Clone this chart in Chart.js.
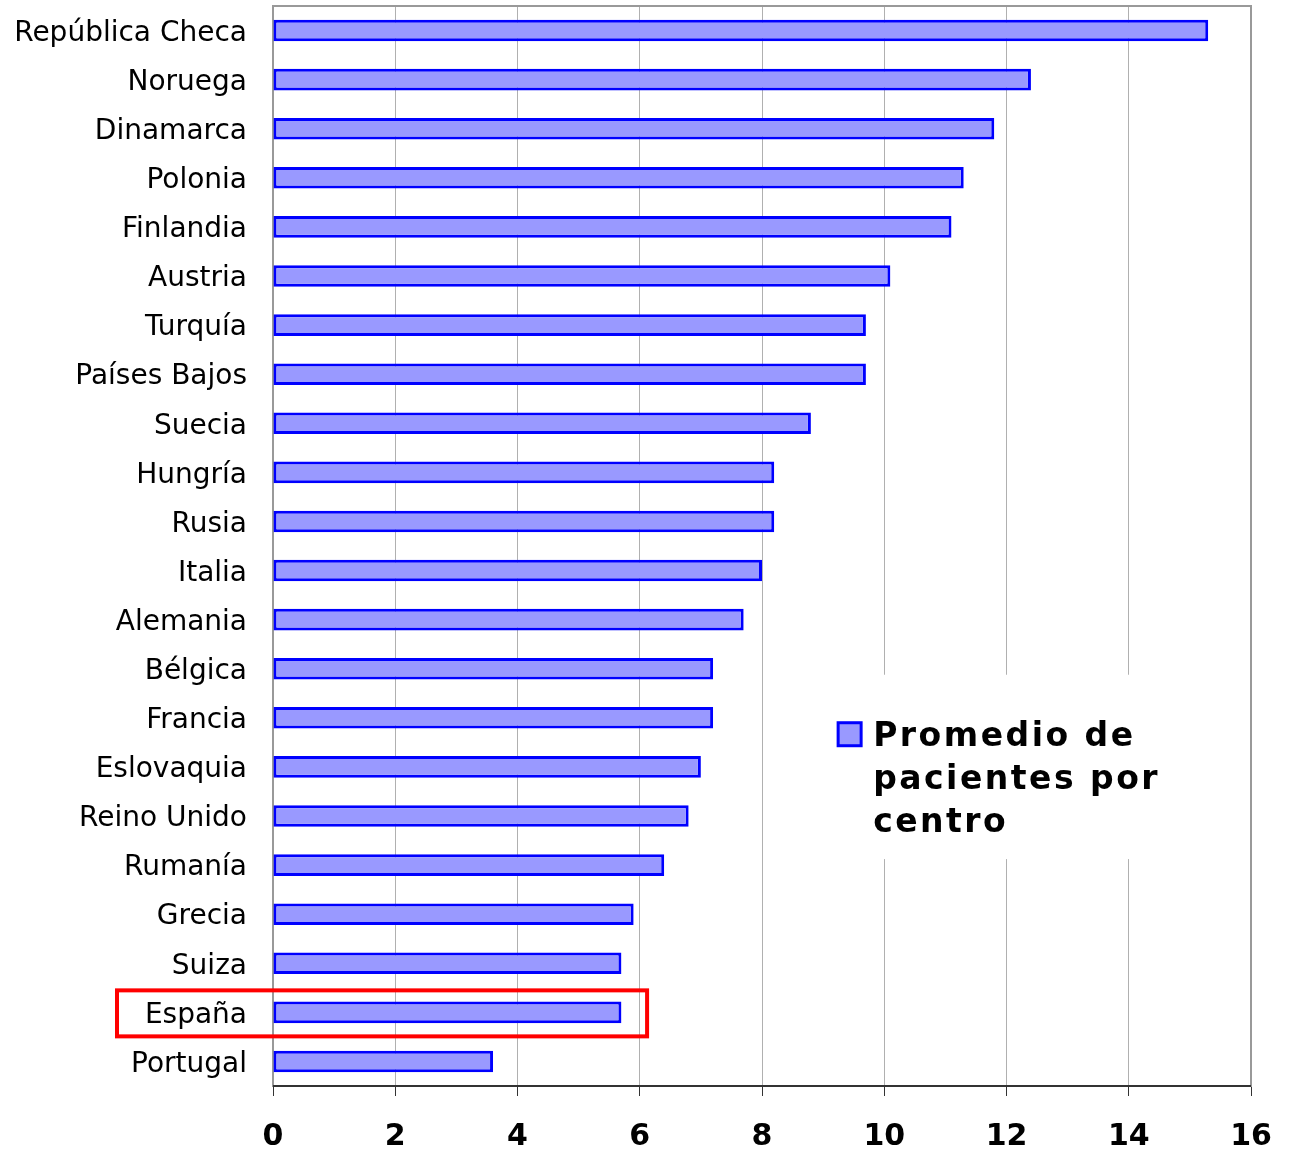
<!DOCTYPE html>
<html>
<head>
<meta charset="utf-8">
<script src="https://cdn.jsdelivr.net/npm/chart.js@4/dist/chart.umd.min.js"></script>
<style>
  html, body { margin: 0; padding: 0; background: #fff; }
  #wrap { width: 1292px; height: 1150px; }
</style>
</head>
<body>
<div id="wrap"><canvas id="chart"></canvas></div>
<script>
// Datos
const countries = ['República Checa', 'Noruega', 'Dinamarca', 'Polonia', 'Finlandia', 'Austria',
  'Turquía', 'Países Bajos', 'Suecia', 'Hungría', 'Rusia', 'Italia', 'Alemania', 'Bélgica',
  'Francia', 'Eslovaquia', 'Reino Unido', 'Rumanía', 'Grecia', 'Suiza', 'España', 'Portugal'];
const patientsPerCentre = [15.3, 12.4, 11.8, 11.3, 11.1, 10.1, 9.7, 9.7, 8.8, 8.2, 8.2, 8.0,
  7.7, 7.2, 7.2, 7.0, 6.8, 6.4, 5.9, 5.7, 5.7, 3.6];
const xTicks = [0, 2, 4, 6, 8, 10, 12, 14, 16];
const seriesLabel = ['Promedio de', 'pacientes por', 'centro'];
const highlighted = 'España';

const FONT = "'DejaVu Sans', Verdana, sans-serif";

// marco gris y eje inferior oscuro
const framePlugin = {
  id: 'frame',
  beforeDatasetsDraw(chart) {
    const { ctx, chartArea: a } = chart;
    ctx.save();
    ctx.strokeStyle = '#999';
    ctx.lineWidth = 2;
    ctx.strokeRect(a.left, a.top, a.right - a.left, a.bottom - a.top);
    ctx.strokeStyle = '#333';
    ctx.beginPath();
    ctx.moveTo(a.left, a.bottom);
    ctx.lineTo(a.right, a.bottom);
    ctx.stroke();
    ctx.restore();
  }
};

// leyenda dentro del área del gráfico
const legendPlugin = {
  id: 'boxLegend',
  afterDatasetsDraw(chart) {
    const { ctx, scales } = chart;
    const x = scales.x, y = scales.y;
    const top = y.getPixelForValue(13) + 6;
    const bottom = y.getPixelForValue(17) - 6;
    const left = x.getPixelForValue(9);
    ctx.save();
    ctx.fillStyle = '#fff';
    ctx.fillRect(left - 5, top, x.right - left + 3, bottom - top);
    ctx.fillStyle = '#9999ff';
    ctx.fillRect(left + 15, top + 48, 23, 23);
    ctx.strokeStyle = '#0000ff';
    ctx.lineWidth = 3;
    ctx.strokeRect(left + 15, top + 48, 23, 23);
    ctx.fillStyle = '#000';
    ctx.font = 'bold 33px ' + FONT;
    ctx.letterSpacing = '2.5px';
    ctx.textBaseline = 'alphabetic';
    seriesLabel.forEach((line, i) => ctx.fillText(line, left + 50, top + 71 + i * 43));
    ctx.restore();
  }
};

// recuadro rojo alrededor de España
const highlightPlugin = {
  id: 'highlight',
  afterDraw(chart) {
    const { ctx, scales } = chart;
    const idx = countries.indexOf(highlighted);
    const cy = scales.y.getPixelForValue(idx);
    const right = scales.x.getPixelForValue(6.12);
    const left = scales.y.left + 117;
    ctx.save();
    ctx.strokeStyle = '#ff0000';
    ctx.lineWidth = 4;
    ctx.strokeRect(left, cy - 22, right - left, 46);
    ctx.restore();
  }
};

new Chart(document.getElementById('chart'), {
  type: 'bar',
  data: {
    labels: countries,
    datasets: [{
      label: seriesLabel.join(' '),
      data: patientsPerCentre,
      backgroundColor: '#9999ff',
      borderColor: '#0000ff',
      borderWidth: 3,
      borderSkipped: false,
      categoryPercentage: 1,
      barPercentage: 0.44
    }]
  },
  options: {
    indexAxis: 'y',
    responsive: true,
    maintainAspectRatio: false,
    animation: false,
    layout: { padding: { top: 6, right: 41, left: 0, bottom: 0 } },
    plugins: {
      legend: { display: false },
      tooltip: { enabled: false }
    },
    scales: {
      x: {
        min: 0,
        max: 16,
        afterBuildTicks: (s) => { s.ticks = xTicks.map(v => ({ value: v })); },
        afterFit: (s) => { s.height = 64; s.paddingLeft = 0; s.paddingRight = 0; },
        grid: { color: '#b0b0b0', lineWidth: 1, tickLength: 10, tickColor: '#333', drawOnChartArea: true },
        border: { display: false },
        ticks: {
          color: '#000',
          padding: 23,
          maxRotation: 0,
          font: { family: FONT, size: 30, weight: 'bold' }
        }
      },
      y: {
        afterFit: (s) => { s.width = 273; s.paddingTop = 0; s.paddingBottom = 0; },
        grid: { display: false, drawTicks: false },
        border: { display: false },
        ticks: {
          color: '#000',
          padding: 26,
          labelOffset: 3,
          autoSkip: false,
          font: { family: FONT, size: 28 }
        }
      }
    }
  },
  plugins: [framePlugin, legendPlugin, highlightPlugin]
});
</script>
</body>
</html>
